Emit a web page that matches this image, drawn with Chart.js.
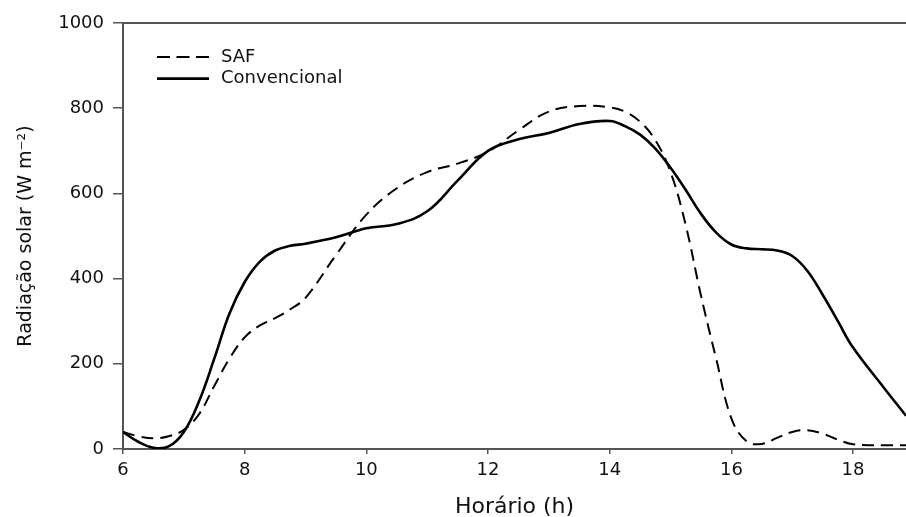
<!DOCTYPE html>
<html><head><meta charset="utf-8">
<script src="https://cdn.jsdelivr.net/npm/chart.js@4/dist/chart.umd.min.js"></script>
<style>html,body{margin:0;padding:0;background:#fff;overflow:hidden}#wrap{width:906px;height:517px;position:relative}</style>
</head><body><div id="wrap"><canvas id="c"></canvas></div>
<script>
const hours = [6, 6.25, 6.5, 6.75, 7, 7.25, 7.5, 7.75, 8, 8.25, 8.5, 8.75, 9, 9.5, 10, 10.5, 11, 11.5, 12, 12.5, 13, 13.5, 14, 14.25, 14.5, 14.75, 15, 15.25, 15.5, 15.75, 16, 16.25, 16.5, 16.75, 17, 17.25, 17.5, 17.75, 18, 18.5, 18.87];
const saf = [40, 30, 25, 30, 45, 82, 148, 212, 262, 290, 307, 328, 355, 455, 550, 612, 650, 670, 698, 748, 792, 805, 802, 792, 768, 725, 650, 525, 360, 212, 72, 18, 12, 26, 40, 44, 36, 22, 11, 9, 9];
const convencional = [40, 17, 3, 6, 40, 112, 212, 318, 392, 440, 466, 477, 482, 497, 518, 528, 558, 630, 700, 727, 742, 763, 770, 758, 738, 705, 660, 608, 552, 508, 480, 471, 469, 466, 453, 418, 362, 300, 238, 145, 78];
const seriesNames = ['SAF', 'Convencional'];
const xTicks = [6, 8, 10, 12, 14, 16, 18];
const yTicks = [0, 200, 400, 600, 800, 1000];
const xTitle = 'Horário (h)';
const yTitle = 'Radiação solar (W m⁻²)';

const FONT = '"DejaVu Sans", sans-serif';
const AXIS = '#555';

const toPts = arr => hours.map((h, i) => ({x: h, y: arr[i]}));

const insideLegend = {
  id: 'insideLegend',
  afterDraw(chart) {
    const ctx = chart.ctx, a = chart.chartArea;
    const x0 = a.left + 34, x1 = x0 + 52, tx = x1 + 12;
    let y = a.top + 34;
    chart.data.datasets.forEach(ds => {
      ctx.save();
      ctx.strokeStyle = ds.borderColor;
      ctx.lineWidth = ds.borderWidth;
      ctx.setLineDash(ds.legendDash || []);
      ctx.beginPath(); ctx.moveTo(x0, y); ctx.lineTo(x1, y); ctx.stroke();
      ctx.setLineDash([]);
      ctx.fillStyle = '#111';
      ctx.font = '18px ' + FONT;
      ctx.textBaseline = 'middle';
      ctx.fillText(ds.label, tx, y);
      ctx.restore();
      y += 21.6;
    });
  }
};

new Chart(document.getElementById('c'), {
  type: 'line',
  data: {
    datasets: [
      {label: seriesNames[0], data: toPts(saf), borderColor: '#000', borderWidth: 2, borderDash: [12, 7], legendDash: [13, 6.5], pointRadius: 0, fill: false, tension: 0.4},
      {label: seriesNames[1], data: toPts(convencional), borderColor: '#000', borderWidth: 2.6, pointRadius: 0, fill: false, tension: 0.4}
    ]
  },
  options: {
    responsive: true,
    maintainAspectRatio: false,
    animation: false,
    devicePixelRatio: 1,
    layout: {padding: {top: 23, right: 0, left: 0, bottom: 0}},
    plugins: {legend: {display: false}, tooltip: {enabled: false}},
    scales: {
      x: {
        type: 'linear', position: 'bottom', min: 6, max: 18.87,
        afterBuildTicks: s => { s.ticks = xTicks.map(v => ({value: v})); },
        afterFit: s => { s.height = 68; },
        ticks: {color: '#111', font: {family: FONT, size: 18}, padding: 6, maxRotation: 0, autoSkip: false, callback: v => String(v)},
        grid: {drawOnChartArea: false, drawTicks: true, tickLength: 5, color: AXIS, lineWidth: 1.5},
        border: {display: true, color: AXIS, width: 2},
        title: {display: true, text: xTitle, color: '#111', font: {family: FONT, size: 22, lineHeight: 0.9}, padding: {top: 0, bottom: 0}}
      },
      x2: {
        type: 'linear', position: 'top', min: 6, max: 18.87,
        ticks: {display: false},
        grid: {display: false, drawTicks: false},
        border: {display: true, color: AXIS, width: 2}
      },
      y: {
        min: 0, max: 1000,
        afterBuildTicks: s => { s.ticks = yTicks.map(v => ({value: v})); },
        afterFit: s => { s.width = 123; },
        ticks: {color: '#111', font: {family: FONT, size: 18}, padding: 9, callback: v => String(v)},
        grid: {drawOnChartArea: false, drawTicks: true, tickLength: 10, color: AXIS, lineWidth: 1.5},
        border: {display: true, color: AXIS, width: 2},
        title: {display: true, text: yTitle, color: '#111', font: {family: FONT, size: 19}, padding: {top: 15, bottom: 0}}
      }
    }
  },
  plugins: [insideLegend]
});
</script>
</body></html>
